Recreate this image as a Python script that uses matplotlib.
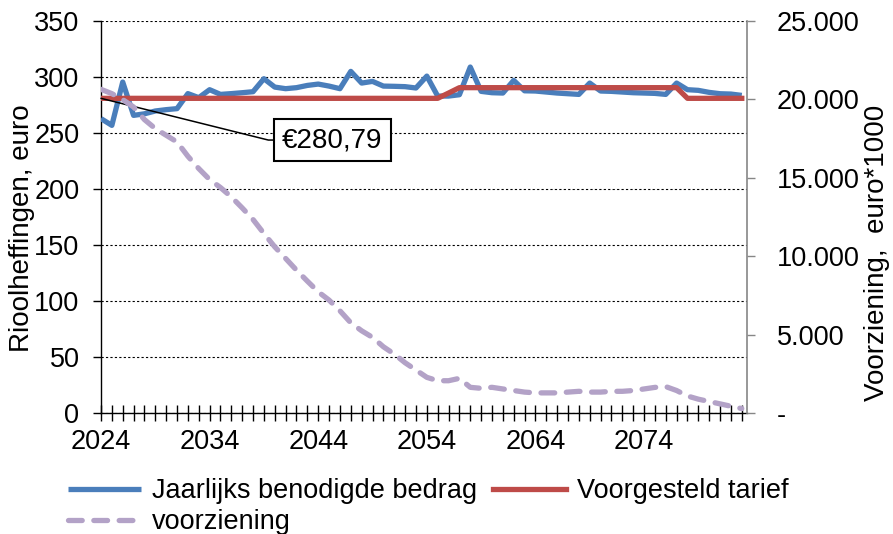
import matplotlib
matplotlib.use('Agg')
import matplotlib.pyplot as plt
from matplotlib.ticker import FixedLocator

plt.rcParams['font.family'] = ['Liberation Sans', 'DejaVu Sans']

# ---------------- data ----------------
years = list(range(2024, 2084))

jaarlijks_bedrag = [262.7, 256.7, 295.3, 265.6, 267.0, 269.5, 270.7, 271.6, 285.0, 281.4,
                    288.5, 284.3, 285.0, 285.8, 286.7, 298.3, 290.8, 289.4, 290.3, 292.3,
                    293.5, 291.7, 289.4, 304.8, 294.4, 295.9, 291.7, 291.5, 291.2, 290.0,
                    300.6, 282.8, 282.8, 284.0, 308.7, 287.0, 285.8, 285.5, 296.8, 287.5,
                    287.3, 286.4, 285.5, 284.9, 284.3, 294.4, 287.3, 287.0, 286.4, 285.8,
                    285.5, 285.2, 284.3, 294.4, 288.5, 287.9, 286.1, 284.9, 284.6, 283.4]

voorgesteld_tarief = [280.79, 280.79, 280.79, 280.79, 280.79, 280.79, 280.79, 280.79, 280.79, 280.79,
                      280.79, 280.79, 280.79, 280.79, 280.79, 280.79, 280.79, 280.79, 280.79, 280.79,
                      280.79, 280.79, 280.79, 280.79, 280.79, 280.79, 280.79, 280.79, 280.79, 280.79,
                      280.79, 280.79, 285.5, 290.3, 290.3, 290.3, 290.3, 290.3, 290.3, 290.3,
                      290.3, 290.3, 290.3, 290.3, 290.3, 290.3, 290.3, 290.3, 290.3, 290.3,
                      290.3, 290.3, 290.3, 290.3, 280.79, 280.79, 280.79, 280.79, 280.79, 280.79]

voorziening = [20630, 20356, 19975, 19504, 18702, 18130, 17704, 17277, 16368, 15585,
               14885, 14376, 13779, 13079, 12341, 11450, 10598, 9860, 9115, 8416,
               7735, 7207, 6527, 5763, 5254, 4835, 4237, 3772, 3219, 2754,
               2290, 2074, 2074, 2226, 1654, 1590, 1654, 1550, 1450, 1350,
               1300, 1300, 1300, 1350, 1400, 1350, 1350, 1400, 1400, 1450,
               1550, 1650, 1700, 1450, 1100, 900, 750, 600, 450, 300]

left_ticks = [0, 50, 100, 150, 200, 250, 300, 350]
right_ticks = [0, 5000, 10000, 15000, 20000, 25000]
right_tick_labels = ['-', '5.000', '10.000', '15.000', '20.000', '25.000']
label_every = 10
annotation_text = '€280,79'

# ---------------- figure ----------------
FS = 19.5
LW = 3.8
W, H = 893, 534
fig = plt.figure(figsize=(W / 100, H / 100), dpi=100)
ax = fig.add_axes([101 / W, 1 - 413.3 / H, 646 / W, 392.6 / H])

x = list(range(len(years)))
blue, = ax.plot(x, jaarlijks_bedrag, color='#4A7EBB', lw=LW,
                solid_joinstyle='round', solid_capstyle='butt', zorder=3,
                label='Jaarlijks benodigde bedrag')
red, = ax.plot(x, voorgesteld_tarief, color='#BE4B48', lw=LW,
               solid_joinstyle='round', zorder=4, label='Voorgesteld tarief')

ax.set_xlim(0, 59.48)
ax.set_ylim(0, 350)
ax.set_yticks(left_ticks)
ax.set_yticklabels([str(t) for t in left_ticks])
ax.grid(axis='y', color='black', ls=(0, (2, 2)), lw=0.8, zorder=0)
ax.set_axisbelow(True)

ax.set_xticks(x[::label_every])
ax.set_xticklabels([str(y) for y in years[::label_every]])
ax.xaxis.set_minor_locator(FixedLocator(x))
ax.tick_params(axis='x', which='both', direction='inout', length=11, width=1,
               color='black', labelsize=FS, pad=6)
ax.tick_params(axis='y', direction='out', length=5.5, width=1, color='black',
               labelsize=FS, pad=10)

for s in ['top', 'right']:
    ax.spines[s].set_visible(False)
ax.spines['left'].set_linewidth(1)
ax.spines['bottom'].set_linewidth(1)

ax2 = ax.twinx()
purple, = ax2.plot(x, voorziening, color='#B3A2C7', lw=LW, ls=(0, (2.6, 2.2)),
                   dash_capstyle='round', label='voorziening', zorder=2)
ax2.set_ylim(0, 25000)
ax2.set_yticks(right_ticks)
ax2.set_yticklabels(right_tick_labels)
ax2.tick_params(axis='y', direction='out', length=5.5, width=1, color='#868686',
                labelsize=FS, pad=16)
for s in ['top', 'left', 'bottom']:
    ax2.spines[s].set_visible(False)
ax2.spines['right'].set_color('#868686')
ax2.spines['right'].set_linewidth(1.2)

# annotation with leader line
ax.annotate(annotation_text, xy=(0, voorgesteld_tarief[0]), xytext=(21.3, 243.6),
            textcoords='data', fontsize=FS + 0.5, ha='center', va='center',
            bbox=dict(boxstyle='square,pad=0.3', fc='white', ec='black', lw=1.5),
            arrowprops=dict(arrowstyle='-', color='black', lw=1.1,
                            connectionstyle='angle,angleA=0,angleB=-14',
                            shrinkA=0, shrinkB=0, relpos=(0, 0.5)),
            zorder=6)

# axis titles
fig.text(22 / W, 1 - 228 / H, 'Rioolheffingen, euro', rotation=90,
         ha='center', va='center', fontsize=FS + 0.5)
fig.text(877 / W, 1 - 253 / H, 'Voorziening,  euro*1000', rotation=90,
         ha='center', va='center', fontsize=FS + 0.5)

# legend
fig.legend(handles=[blue, purple, red], ncol=2, loc='upper left',
           bbox_to_anchor=(68 / W, 1 - 478 / H), frameon=False,
           fontsize=FS, handlelength=2.7, handletextpad=0.4,
           columnspacing=0.6, labelspacing=0.2, borderpad=0, borderaxespad=0)

fig.savefig('out.png', dpi=100)
